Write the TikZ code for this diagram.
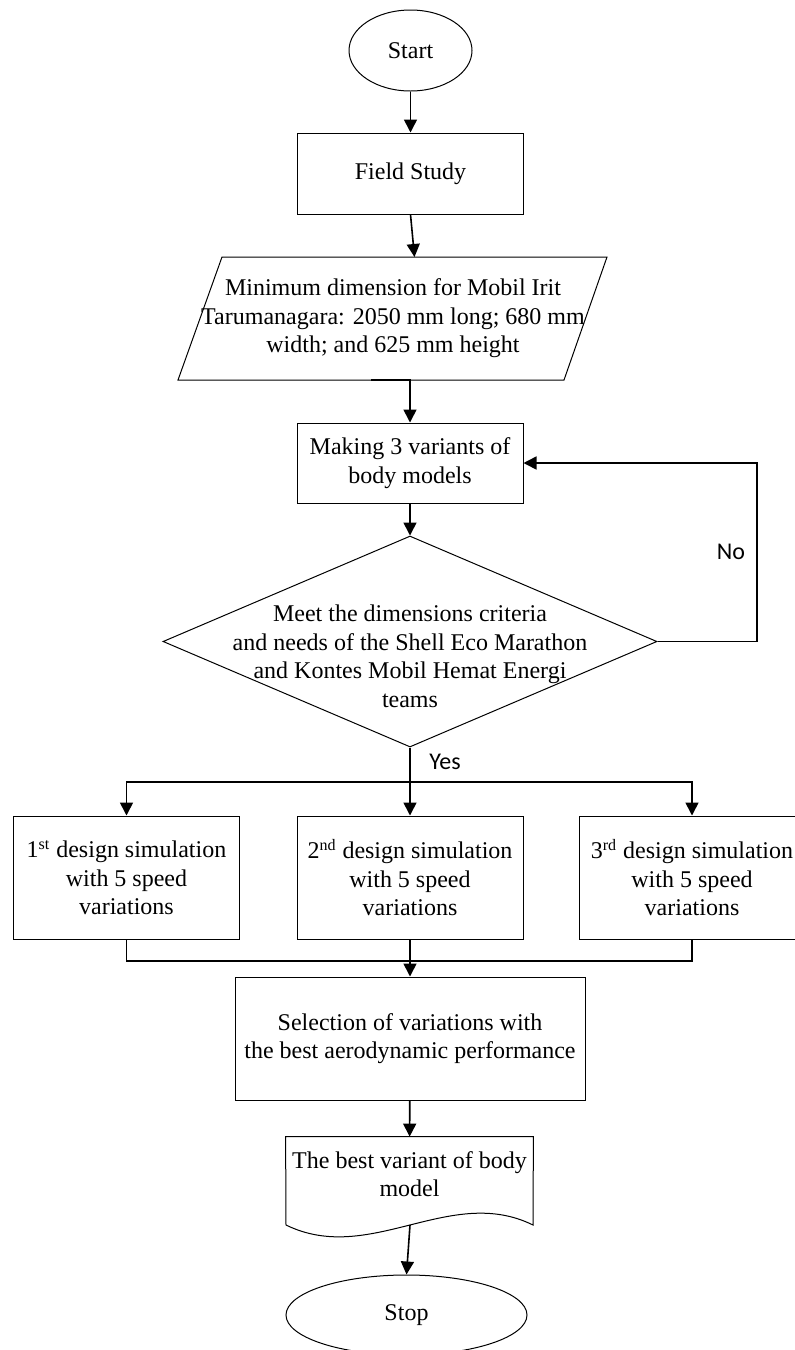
\documentclass[tikz,border=0pt]{standalone}
\usepackage{fontspec}
\setmainfont{Liberation Serif}
\newfontfamily\lblfont{Carlito}
\usetikzlibrary{shapes.geometric,arrows.meta}

\begin{document}
\begin{tikzpicture}
[	
	x=0.5pt,y=-0.5pt,
	>={Triangle[length=6.5pt,width=6.5pt]},
	every node/.style={font=\fontsize{12}{14.25}\selectfont,align=center},
	blk/.style={rectangle,draw,line width=0.5,minimum width=113pt},
	term/.style={ellipse,draw,line width=0.5},
	sim/.style={blk,minimum height=61.5pt},
	yn/.style={font=\lblfont\fontsize{12}{14}\selectfont}
]

\useasboundingbox (0,0) rectangle (794,1350);

\node[term,minimum width=61.5pt,minimum height=40.5pt] (start) at (410.5,50.5) {Start};
\node[blk,minimum height=40.5pt] (field) at (410.5,173.5) {Field Study};

% data block
\draw[line width=0.5] (222,257) -- (607,257) -- (564,380) -- (178,380) -- cycle;
\node (para) at (393,318.5) {Minimum dimension for Mobil Irit\\Tarumanagara: 2050 mm long; 680 mm\\width; and 625 mm height};
\coordinate (ptop) at (414.5,257);
\coordinate (pbot) at (371,380);

\node[blk,minimum height=40pt] (make) at (410,463) {Making 3 variants of\\body models};

\node[diamond,draw,line width=0.5,aspect=2.34,inner sep=0,minimum width=247pt,minimum height=105.5pt] (dec) at (410,641.5) {};
\node (dectxt) at (410,656.5) {Meet the dimensions criteria\\and needs of the Shell Eco Marathon\\and Kontes Mobil Hemat Energi\\teams};

\node[yn] (no) at (731,552) {No};
\node[yn] (yes) at (445,762) {Yes};

\node[sim] (sim1) at (126.5,877.5) {1\textsuperscript{st} design simulation\\with 5 speed\\variations};
\node[sim] (sim2) at (410,877.5) {2\textsuperscript{nd} design simulation\\with 5 speed\\variations};
\node[sim] (sim3) at (692,877.5) {3\textsuperscript{rd} design simulation\\with 5 speed\\variations};

\node[blk,minimum width=175pt,minimum height=61.5pt] (sel) at (410,1038.5) {Selection of variations with\\the best aerodynamic performance};

% document
\node[minimum width=123.5pt,minimum height=37pt,inner sep=0] (doc) at (409.5,1174) {The best variant of body\\model};
\draw[line width=0.5] (doc.north west) -- (doc.north east) -- (533,1225) .. controls (450,1184) and (370,1266) .. (286,1225) -- cycle;
\coordinate (wave) at (410,1225);

\node[term,minimum width=120.5pt,minimum height=40pt] (stop) at (406.5,1315) {Stop};

\coordinate (split) at (410,782);
\coordinate (join) at (410,961);

\draw[thick,->]	(start)		-- 	(field);
\draw[thick,->]	(field.south)	-- 	(ptop);
\draw[thick,->]	(pbot)		-| 	(make);
\draw[thick,->]	(make)		-- 	(dec);
\draw[thick,->]	(dec.east)	-- ++(99.5,0) |- (make.east);

\draw[thick]	(dec.south)	-- 	(split);
\draw[thick,->]	(split)		-| 	(sim1);
\draw[thick,->]	(split)		-- 	(sim2);
\draw[thick,->]	(split)		-| 	(sim3);

\draw[thick]	(sim1)		|- 	(join);
\draw[thick]	(sim3)		|- 	(join);
\draw[thick]	(sim2)		-- 	(join);
\draw[thick,->]	(join)		-- 	(sel);

\draw[thick,->]	(sel)		-- 	(doc);
\draw[thick,->]	(wave)		-- 	(stop.north);

\end{tikzpicture}
\end{document}
